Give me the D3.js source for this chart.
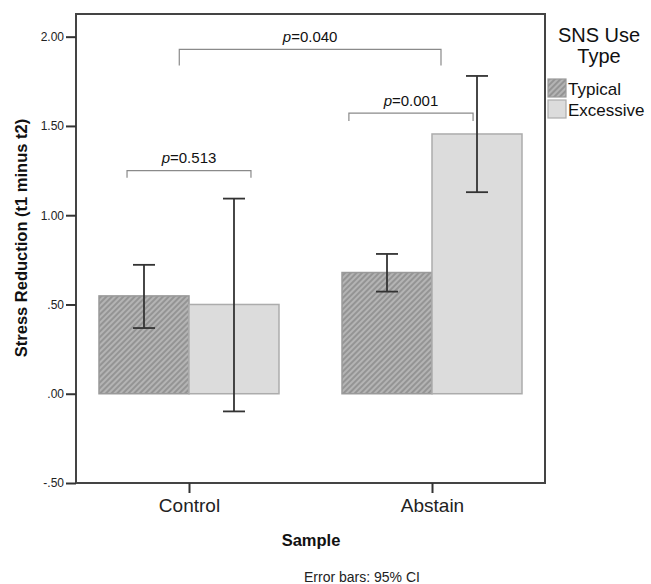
<!DOCTYPE html>
<html>
<head>
<meta charset="utf-8">
<script src="https://cdn.jsdelivr.net/npm/d3@7"></script>
<style>
  body { margin: 0; background: #fff; }
  text { font-family: Arial, "Liberation Sans", sans-serif; }
</style>
</head>
<body>
<div id="canvas"></div>
<script>
var width = 651,
    height = 584;

// data
var samples = ["Control", "Abstain"];
var useTypes = ["Typical", "Excessive"];
var means = [[0.548, 0.500], [0.679, 1.455]];     // [sample][type]
var ciLow = [[0.368, -0.099], [0.572, 1.129]];
var ciHigh = [[0.722, 1.093], [0.783, 1.780]];
var yTicks = [-0.5, 0, 0.5, 1.0, 1.5, 2.0];
var yTickLabels = ["-.50", ".00", ".50", "1.00", "1.50", "2.00"];
// significance brackets: x in sample-index units, y in data units
var bracketLabels = ["0.513", "0.040", "0.001"];
var bracketX1 = [-0.255, -0.04, 0.658];
var bracketX2 = [0.255, 1.037, 1.169];
var bracketY = [1.25, 1.929, 1.572];
var bracketDrop = [0.04, 0.09, 0.045];

var plot = {left: 76, right: 545, top: 14, bottom: 483};

var svg = d3.select("#canvas").append("svg")
    .attr("width", width)
    .attr("height", height);

var defs = svg.append("defs");
var pat = defs.append("pattern")
    .attr("id", "hatch")
    .attr("patternUnits", "userSpaceOnUse")
    .attr("width", 4)
    .attr("height", 4)
    .attr("patternTransform", "rotate(45)");
pat.append("rect").attr("width", 4).attr("height", 4).attr("fill", "#b4b4b4");
pat.append("line")
    .attr("x1", 1).attr("y1", 0).attr("x2", 1).attr("y2", 4)
    .attr("stroke", "#8c8c8c").attr("stroke-width", 1.6);

var y = d3.scaleLinear()
    .domain([-0.5, 2.127])
    .range([plot.bottom, plot.top]);

var x0 = d3.scalePoint()
    .domain(samples)
    .range([plot.left, plot.right])
    .padding(0.465);

var x1 = d3.scaleBand()
    .domain(useTypes)
    .range([-90, 90]);

var xi = d3.scaleLinear()
    .domain([0, 1])
    .range([x0(samples[0]), x0(samples[1])]);

var fills = {Typical: "url(#hatch)", Excessive: "#dcdcdc"};
var strokes = {Typical: "#9a9a9a", Excessive: "#acacac"};

// bars
var rows = [];
samples.forEach(function(s, i) {
  useTypes.forEach(function(t, j) {
    rows.push({sample: s, type: t, mean: means[i][j], lo: ciLow[i][j], hi: ciHigh[i][j]});
  });
});

var g = svg.append("g");

g.selectAll("rect.bar")
    .data(rows).enter()
  .append("rect")
    .attr("class", "bar")
    .attr("x", function(d) { return x0(d.sample) + x1(d.type); })
    .attr("y", function(d) { return y(d.mean); })
    .attr("width", x1.bandwidth())
    .attr("height", function(d) { return y(0) - y(d.mean); })
    .attr("fill", function(d) { return fills[d.type]; })
    .attr("stroke", function(d) { return strokes[d.type]; })
    .attr("stroke-width", 1.5);

// error bars
var eb = g.selectAll("g.err")
    .data(rows).enter()
  .append("g")
    .attr("class", "err")
    .attr("transform", function(d) {
      return "translate(" + (x0(d.sample) + x1(d.type) + x1.bandwidth() / 2) + ",0)";
    })
    .attr("stroke", "#333")
    .attr("stroke-width", 1.8);
eb.append("line")
    .attr("y1", function(d) { return y(d.lo); })
    .attr("y2", function(d) { return y(d.hi); });
eb.append("line")
    .attr("x1", -11).attr("x2", 11)
    .attr("y1", function(d) { return y(d.hi); })
    .attr("y2", function(d) { return y(d.hi); });
eb.append("line")
    .attr("x1", -11).attr("x2", 11)
    .attr("y1", function(d) { return y(d.lo); })
    .attr("y2", function(d) { return y(d.lo); });

// brackets
var brackets = bracketLabels.map(function(l, i) {
  return {label: l, x1: bracketX1[i], x2: bracketX2[i], y: bracketY[i], drop: bracketDrop[i]};
});
var br = g.selectAll("g.bracket")
    .data(brackets).enter()
  .append("g")
    .attr("class", "bracket");
br.append("path")
    .attr("d", function(d) {
      var a = xi(d.x1), b = xi(d.x2), top = y(d.y), bot = y(d.y - d.drop);
      return "M" + a + "," + bot + "V" + top + "H" + b + "V" + bot;
    })
    .attr("fill", "none")
    .attr("stroke", "#8a8a8a")
    .attr("stroke-width", 1.2);
var bt = br.append("text")
    .attr("x", function(d) { return (xi(d.x1) + xi(d.x2)) / 2; })
    .attr("y", function(d) { return y(d.y) - 7.5; })
    .attr("text-anchor", "middle")
    .attr("font-size", 15)
    .attr("fill", "#111");
bt.append("tspan").attr("font-style", "italic").text("p");
bt.append("tspan").text(function(d) { return "=" + d.label; });

// frame
svg.append("rect")
    .attr("x", plot.left)
    .attr("y", plot.top)
    .attr("width", plot.right - plot.left)
    .attr("height", plot.bottom - plot.top)
    .attr("fill", "none")
    .attr("stroke", "#444")
    .attr("stroke-width", 2);

// axes
var yAxis = d3.axisLeft(y)
    .tickValues(yTicks)
    .tickSize(10)
    .tickPadding(2)
    .tickFormat(function(d, i) { return yTickLabels[i]; });
var ya = svg.append("g")
    .attr("transform", "translate(" + plot.left + ",0)")
    .call(yAxis);
ya.select(".domain").remove();
ya.selectAll(".tick line").attr("stroke", "#333").attr("stroke-width", 2);
ya.selectAll(".tick text")
    .attr("font-size", 12)
    .attr("font-family", "Arial, 'Liberation Sans', sans-serif")
    .attr("fill", "#222");

var xAxis = d3.axisBottom(x0)
    .tickSize(10)
    .tickPadding(6);
var xa = svg.append("g")
    .attr("transform", "translate(0," + plot.bottom + ")")
    .call(xAxis);
xa.select(".domain").remove();
xa.selectAll(".tick line").attr("stroke", "#333").attr("stroke-width", 2);
xa.selectAll(".tick text")
    .attr("font-size", 19)
    .attr("font-family", "Arial, 'Liberation Sans', sans-serif")
    .attr("fill", "#222");

// axis titles
svg.append("text")
    .attr("transform", "translate(27,238) rotate(-90)")
    .attr("text-anchor", "middle")
    .attr("font-size", 16.5)
    .attr("font-weight", "bold")
    .attr("fill", "#111")
    .text("Stress Reduction (t1 minus t2)");

svg.append("text")
    .attr("x", 311)
    .attr("y", 546)
    .attr("text-anchor", "middle")
    .attr("font-size", 16.5)
    .attr("font-weight", "bold")
    .attr("fill", "#111")
    .text("Sample");

svg.append("text")
    .attr("x", 362)
    .attr("y", 582)
    .attr("text-anchor", "middle")
    .attr("font-size", 14)
    .attr("fill", "#222")
    .text("Error bars: 95% CI");

// legend
var lg = svg.append("g");
lg.append("text")
    .attr("x", 599).attr("y", 42)
    .attr("text-anchor", "middle")
    .attr("font-size", 20)
    .attr("fill", "#111")
    .text("SNS Use");
lg.append("text")
    .attr("x", 599).attr("y", 63)
    .attr("text-anchor", "middle")
    .attr("font-size", 20)
    .attr("fill", "#111")
    .text("Type");

var li = lg.selectAll("g.item")
    .data(useTypes).enter()
  .append("g")
    .attr("class", "item")
    .attr("transform", function(d, i) { return "translate(548," + (79 + i * 21) + ")"; });
li.append("rect")
    .attr("width", 18)
    .attr("height", 18)
    .attr("fill", function(d) { return fills[d]; })
    .attr("stroke", function(d) { return strokes[d]; })
    .attr("stroke-width", 1.2);
li.append("text")
    .attr("x", 20)
    .attr("y", 16)
    .attr("font-size", 17)
    .attr("fill", "#111")
    .text(function(d) { return d; });
</script>
</body>
</html>
